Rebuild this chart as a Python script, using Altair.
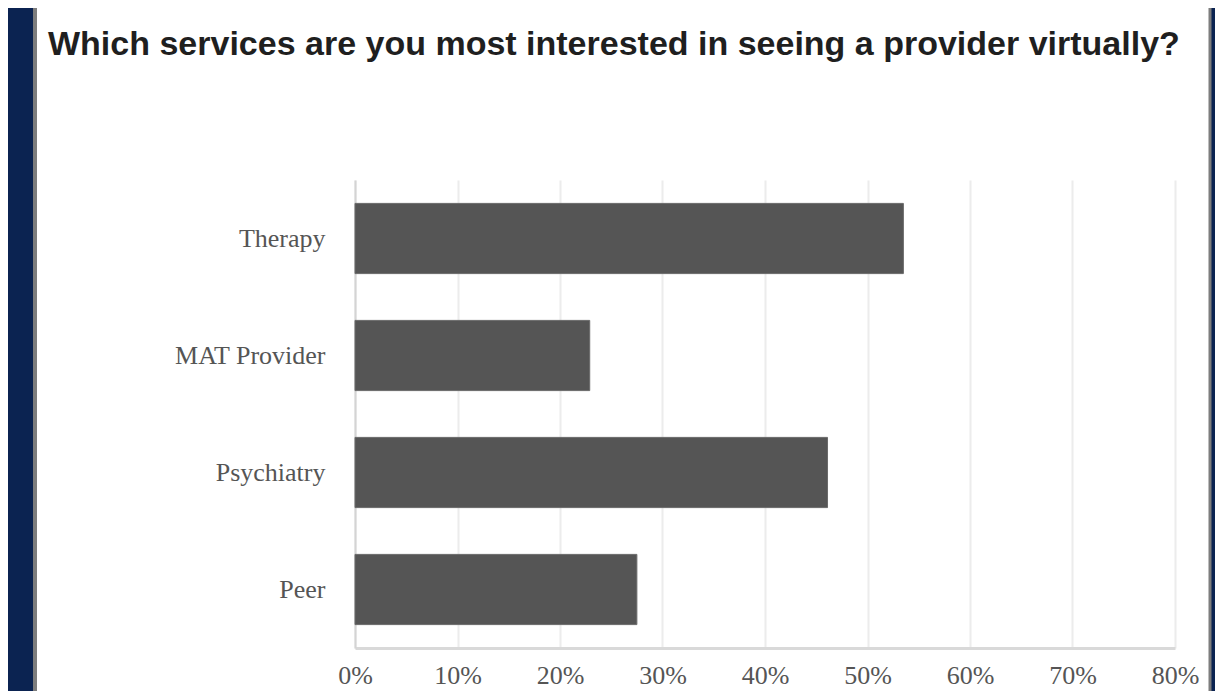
import altair as alt
import pandas as pd

# ---- data ----
categories = ["Therapy", "MAT Provider", "Psychiatry", "Peer"]
values = [0.535, 0.229, 0.461, 0.275]
x_ticks = [0.0, 0.1, 0.2, 0.3, 0.4, 0.5, 0.6, 0.7, 0.8]
title_text = "Which services are you most interested in seeing a provider virtually?"

df = pd.DataFrame({"service": categories, "share": values})

NAVY = "#0b2351"
BORDER = "#7d7d7d"

bars = alt.Chart(df).mark_bar(color="#555555", stroke="#6a6a6a", strokeWidth=1).encode(
    y=alt.Y(
        "service:N",
        sort=categories,
        scale=alt.Scale(paddingInner=0.4, paddingOuter=0.2),
        axis=alt.Axis(
            title=None, ticks=False, grid=False,
            labelFont="Liberation Serif", labelFontSize=26, labelColor="#555555",
            labelPadding=30, domainColor="#d4d4d4", domainWidth=2,
        ),
    ),
    x=alt.X(
        "share:Q",
        scale=alt.Scale(domain=[0, 0.8], nice=False),
        axis=alt.Axis(
            title=None, values=x_ticks, format=".0%", ticks=False,
            labelFont="Liberation Serif", labelFontSize=26, labelColor="#555555",
            labelPadding=14, domainColor="#d9d9d9", domainWidth=3,
            grid=True, gridColor="#ececec", gridWidth=2,
            labelFlush=False,
        ),
    ),
)

one = pd.DataFrame({"k": [0]})
frame_left = alt.Chart(one).mark_rect(fill=NAVY, stroke=BORDER, strokeWidth=4).encode(
    x=alt.value(-420), x2=alt.value(-320), y=alt.value(-300), y2=alt.value(700)
)
frame_right = alt.Chart(one).mark_rect(fill=NAVY, stroke=BORDER, strokeWidth=3).encode(
    x=alt.value(855), x2=alt.value(960), y=alt.value(-300), y2=alt.value(700)
)

title_mark = alt.Chart(pd.DataFrame({"t": [title_text]})).mark_text(
    align="left", baseline="alphabetic", font="Liberation Sans", fontWeight="bold",
    fontSize=34, color="#1f1f1f",
).encode(x=alt.value(-307), y=alt.value(-125), text="t:N")

chart = alt.layer(frame_left, frame_right, bars, title_mark).properties(
    width=820,
    height=468,
    autosize="none",
    padding={"left": 347, "top": 172, "right": 40, "bottom": 43},
    background="white",
).configure_view(stroke=None)

chart.save("out.html", embed_options={"renderer": "svg", "actions": False})
